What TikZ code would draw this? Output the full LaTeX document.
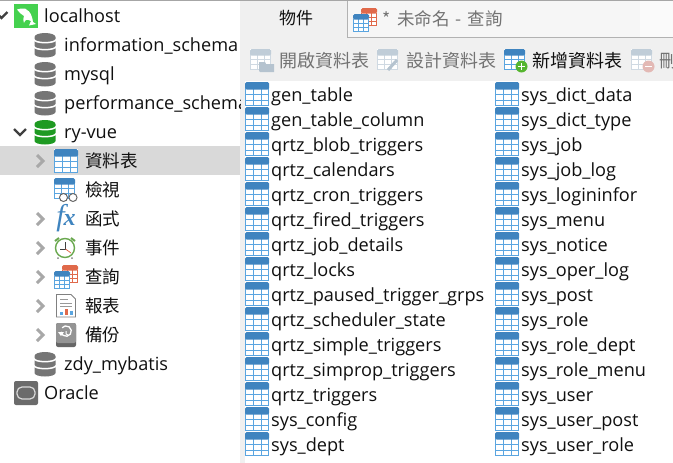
\documentclass[tikz,border=0pt]{standalone}
\usepackage{fontspec}
\setmainfont{Open Sans}
\newfontfamily\cjk{Noto Sans CJK TC}
\newfontfamily\fxf{Liberation Serif}
\definecolor{bluehd}{HTML}{3F84BF}
\definecolor{bluegr}{HTML}{5AA5E0}
\definecolor{panel}{HTML}{F0F0F0}
\definecolor{sel}{HTML}{D9D9D9}
\definecolor{txt}{HTML}{101010}
\definecolor{dbgray}{HTML}{757575}
\definecolor{dbgreen}{HTML}{1E9A22}
\definecolor{chev}{HTML}{A8A8A8}
\definecolor{orng}{HTML}{E0694A}
\definecolor{tabq}{HTML}{F6F6F6}
\definecolor{mygreen}{HTML}{45D14F}
\definecolor{clockg}{HTML}{6AA84F}
\definecolor{addg}{HTML}{55B52E}
\definecolor{delr}{HTML}{E3B9B5}
\definecolor{offhd}{HTML}{C0CDD8}
\definecolor{offgr}{HTML}{CFD9E2}
\definecolor{offfold}{HTML}{B5C3CF}
\tikzset{
  x=1pt,y=-1pt,
  lbl/.style={anchor=base west,inner sep=0pt,text=txt,font=\fontsize{18.15}{20}\selectfont},
  cjkl/.style={anchor=base west,inner sep=0pt,text=txt,font=\cjk\fontsize{17.5}{20}\selectfont},
  cjkt/.style={anchor=base west,inner sep=0pt,text=txt,font=\cjk\fontsize{18}{20}\selectfont},
  dim/.style={anchor=base west,inner sep=0pt,text=black!55,font=\cjk\fontsize{18}{20}\selectfont},
}
% table icon: #1 x left, #2 y top, #3 w, #4 h, #5 head colour, #6 grid colour
\newcommand{\tblic}[6]{%
  \begin{scope}[shift={(#1,#2)},xscale=#3/24,yscale=#4/24]
    \fill[white] (0,0) rectangle (24,24);
    \draw[#6,line width=1pt] (.5,6) -- (.5,23.5) -- (23.5,23.5) -- (23.5,6);
    \draw[#6,line width=.9pt] (8,6) -- (8,23.5) (16,6) -- (16,23.5) (.5,12.5) -- (23.5,12.5) (.5,18) -- (23.5,18);
    \fill[#5,rounded corners=1.5pt] (0,0) rectangle (24,7.5);
  \end{scope}}
% database icon: #1 centre x, #2 centre y, #3 colour
\newcommand{\dbic}[3]{%
  \begin{scope}[shift={(#1,#2)}]
    \fill[#3] (-10.5,-8) arc[start angle=180,end angle=360,x radius=10.5,y radius=4]
       -- (10.5,9) arc[start angle=0,end angle=180,x radius=10.5,y radius=3.5] -- cycle;
    \draw[white,line width=1.5pt] (-11,-5.5) arc[start angle=180,end angle=0,x radius=11,y radius=3.2];
    \draw[white,line width=1.5pt] (-11,1.5) arc[start angle=180,end angle=0,x radius=11,y radius=3.2];
  \end{scope}}
\newcommand{\chevr}[2]{\draw[chev,line width=3pt] (#1-3,#2-6) -- (#1+3,#2) -- (#1-3,#2+6);}
\newcommand{\chevd}[2]{\draw[black!75,line width=2.3pt] (#1-6,#2-3) -- (#1,#2+3) -- (#1+6,#2-3);}
\begin{document}
\begin{tikzpicture}
\useasboundingbox (0,0) rectangle (673,463);
\fill[white] (0,0) rectangle (673,463);
% panels
\fill[panel] (240,0) rectangle (673,81);
\fill[panel] (240,0) rectangle (245,463);
\fill[sel] (0,146) rectangle (240,175);
\fill[tabq] (348,1) rectangle (640,38);
\fill[white!98!black] (640,1) rectangle (673,38);
\draw[black!30,line width=.7pt] (347.5,38) -- (347.5,1);
\draw[black!30,line width=.8pt] (347.5,37.7) -- (673,37.7);
\fill[black!35] (0,0) rectangle (673,1);
% tree: server
\fill[mygreen] (14,4) rectangle (38,28);
\fill[white] (17,9.5) -- (21,8.5) .. controls (27,7) and (32,13) .. (33,22)
   -- (36,24) -- (29,25.5) -- (31,21) .. controls (27,19) and (25,19.5) .. (24,23)
   .. controls (23,21) and (23,18) .. (24,16) .. controls (21,14.5) and (19,12) .. (17,9.5) -- cycle;
\chevd{1.5}{15}
\node[lbl] (n1) at (44,22) {localhost};
\dbic{45}{45}{dbgray}
\node[lbl] (n2) at (64,51) {information\_schema};
\dbic{45}{74}{dbgray}
\node[lbl] (n3) at (64,80) {mysql};
\dbic{45}{103}{dbgray}
\begin{scope}
\clip (0,85) rectangle (240,120);
\node[lbl] (n4) at (64,109) {performance\_schema};
\end{scope}
\chevd{20}{132}
\dbic{45}{132}{dbgreen}
\node[lbl] (n5) at (64,138) {ry-vue};
% tables
\chevr{40}{161}
\tblic{54}{149}{24}{24}{bluehd}{bluegr}
\node[cjkl] (n6) at (85,167) {資料表};
% views
\tblic{54}{178}{21}{21}{bluehd}{bluegr}
\draw[black!60,line width=1pt,fill=white] (63.5,197.5) circle (4);
\draw[black!60,line width=1pt,fill=white] (73,197.5) circle (4);
\node[cjkl] (n7) at (85,196) {檢視};
% functions
\chevr{40}{219}
\node[anchor=center,inner sep=0pt,text=bluehd,font=\fxf\itshape] (fx) at (66,218)
   {\fontsize{30}{30}\selectfont f\kern-1pt\fontsize{24}{24}\selectfont\bfseries x};
\node[cjkl] (n8) at (85,225) {函式};
% events
\chevr{40}{248}
\draw[clockg,line width=1.4pt,fill=white] (65,248) circle (9.5);
\draw[black!75,line width=.8pt] (65.5,242) -- (65.5,249) -- (60,249);
\draw[orng,line width=.8pt] (65.5,249) -- (71,253);
\draw[clockg,line width=2pt] (55,241) -- (59,238) (71,238) -- (75,241);
\fill[black!50] (58,258) circle (1) (72,258) circle (1);
\node[cjkl] (n9) at (85,254) {事件};
% queries
\chevr{40}{277}
\tblic{62}{265}{16}{18}{orng}{orng}
\tblic{54}{271}{16}{18}{bluehd}{bluegr}
\node[cjkl] (n10) at (85,283) {查詢};
% reports
\chevr{40}{306}
\draw[black!50,line width=.8pt,fill=white] (56.5,294.5) -- (71,294.5) -- (75.5,299) -- (75.5,317) -- (56.5,317) -- cycle;
\draw[black!40,line width=.8pt] (60,299) -- (68,299) (60,303) -- (72,303) (60,306) -- (72,306);
\fill[bluegr] (60,312) rectangle (63,315);
\fill[orng] (65,309) rectangle (68,315);
\fill[bluegr] (70,311) rectangle (73,315);
\node[cjkl] (n11) at (85,312) {報表};
% backup
\chevr{40}{335}
\fill[black!60,rounded corners=2pt] (56,323) rectangle (76,347);
\fill[black!42,rounded corners=2pt] (56,323) rectangle (76,343);
\draw[white,line width=1.3pt] (61,332) arc[start angle=170,end angle=-140,radius=5.2];
\draw[white,line width=1pt] (66,331) -- (66,334) -- (68,335);
\fill[white] (58,332) -- (64,332) -- (61,336) -- cycle;
\node[cjkl] (n12) at (85,341) {備份};
% zdy
\dbic{45}{364}{dbgray}
\node[lbl] (n13) at (64,370) {zdy\_mybatis};
% Oracle
\fill[black!58,rounded corners=2pt] (14,381) rectangle (38,405);
\draw[black!15,line width=1.2pt,rounded corners=5pt] (17,387) rectangle (35,399);
\node[lbl] (n14) at (44,399) {Oracle};
% tabs
\node[cjkl,font=\cjk\fontsize{17}{20}\selectfont] (t1) at (279,24) {物件};
\tblic{361}{8}{16}{18}{orng}{orng}
\tblic{353}{14}{16}{18}{bluehd}{bluegr}
\node[dim,font=\cjk\fontsize{17.5}{20}\selectfont] (t2) at (382,25) {*\hspace{7pt}未命名\hspace{6pt}-\hspace{6pt}查詢};
% toolbar
\tblic{250}{49}{21}{21}{offhd}{offgr}
\fill[offfold] (259,71) -- (259,62) -- (265,62) -- (266,64) -- (274,64) -- (274,72) -- (260,72) -- cycle;
\node[dim] (b1) at (279,67) {開啟資料表};
\tblic{377}{49}{21}{21}{offhd}{offgr}
\draw[offfold,line width=3pt] (388,70) -- (397,60);
\node[dim] (b2) at (406,67) {設計資料表};
\tblic{504}{49}{21}{21}{bluehd}{bluegr}
\fill[addg] (521.5,66.5) circle (6);
\draw[white,line width=1.2pt] (518,66.5) -- (525,66.5) (521.5,63) -- (521.5,70);
\node[cjkt] (b3) at (532,67) {新增資料表};
\tblic{631}{49}{21}{21}{offhd}{offgr}
\fill[delr] (648.5,66.5) circle (6);
\draw[white,line width=1.2pt] (645,66.5) -- (652,66.5);
\begin{scope}
\clip (655,40) rectangle (673,80);
\node[dim] (b4) at (659,67) {刪};
\end{scope}
% lists
\foreach \nm [count=\i from 0] in {gen\_table,gen\_table\_column,qrtz\_blob\_triggers,qrtz\_calendars,qrtz\_cron\_triggers,qrtz\_fired\_triggers,qrtz\_job\_details,qrtz\_locks,qrtz\_paused\_trigger\_grps,qrtz\_scheduler\_state,qrtz\_simple\_triggers,qrtz\_simprop\_triggers,qrtz\_triggers,sys\_config,sys\_dept}{
  \tblic{245}{82+25*\i}{24}{24}{bluehd}{bluegr}
  \node[lbl] (l\i) at (271,101+25*\i) {\nm};
}
\foreach \nm [count=\i from 0] in {sys\_dict\_data,sys\_dict\_type,sys\_job,sys\_job\_log,sys\_logininfor,sys\_menu,sys\_notice,sys\_oper\_log,sys\_post,sys\_role,sys\_role\_dept,sys\_role\_menu,sys\_user,sys\_user\_post,sys\_user\_role}{
  \tblic{495}{82+25*\i}{24}{24}{bluehd}{bluegr}
  \node[lbl] (r\i) at (521,101+25*\i) {\nm};
}
\end{tikzpicture}
\end{document}
